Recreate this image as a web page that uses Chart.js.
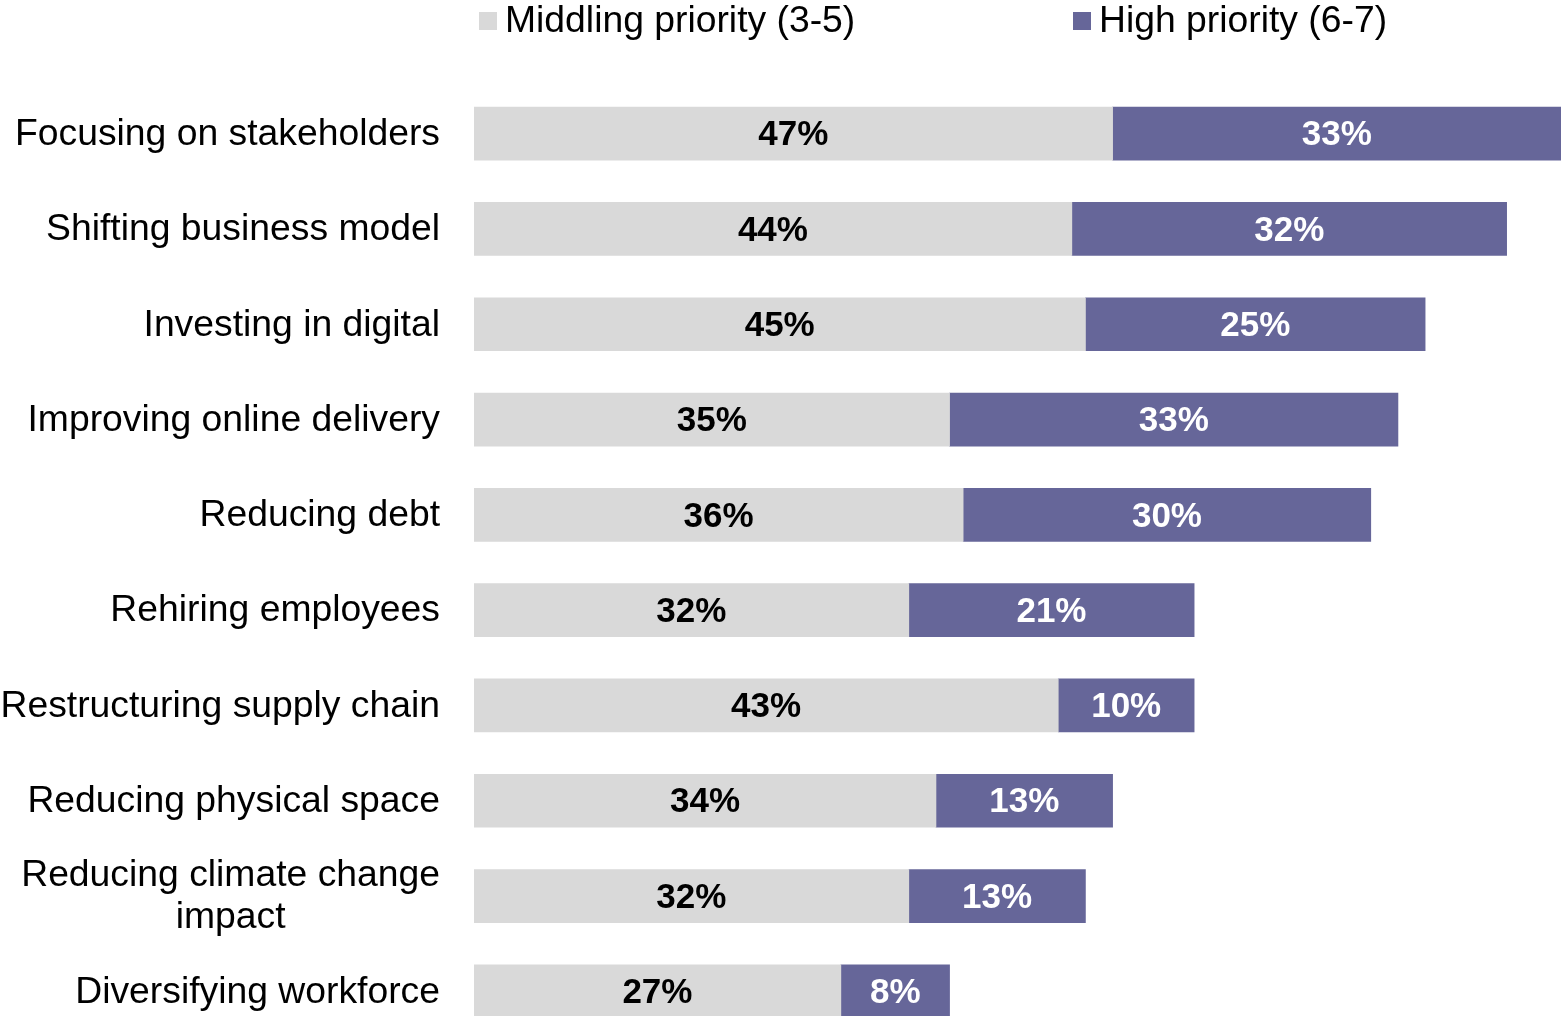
<!DOCTYPE html>
<html>
<head>
<meta charset="utf-8">
<script src="https://cdn.jsdelivr.net/npm/chart.js@4/dist/chart.umd.min.js"></script>
<style>
  html, body { margin: 0; padding: 0; background: #fff; overflow: hidden; }
  #wrap { width: 1561px; height: 1016px; overflow: hidden; position: relative; }
  canvas { display: block; }
</style>
</head>
<body>
<div id="wrap"><canvas id="c" width="1561" height="1039"></canvas></div>
<script>
const categories = [
  "Focusing on stakeholders",
  "Shifting business model",
  "Investing in digital",
  "Improving online delivery",
  "Reducing debt",
  "Rehiring employees",
  "Restructuring supply chain",
  "Reducing physical space",
  ["Reducing climate change", "impact"],
  "Diversifying workforce"
];
const seriesNames = ["Middling priority (3-5)", "High priority (6-7)"];
const middling = [47, 44, 45, 35, 36, 32, 43, 34, 32, 27];
const high = [33, 32, 25, 33, 30, 21, 10, 13, 13, 8];
const colors = ["#D9D9D9", "#666699"];
const labelColors = ["#000000", "#FFFFFF"];

const FONT = "'Liberation Sans', Arial, sans-serif";

const yLabelPlugin = {
  id: 'yLabels',
  afterDraw(chart) {
    const ctx = chart.ctx;
    const y = chart.scales.y;
    ctx.save();
    ctx.font = "37.3px " + FONT;
    ctx.fillStyle = "#000";
    ctx.textBaseline = "middle";
    const right = 440;
    chart.data.labels.forEach((lab, i) => {
      const cy = y.getPixelForValue(i) + 1;
      if (Array.isArray(lab)) {
        const widths = lab.map(l => ctx.measureText(l).width);
        const maxW = Math.max(...widths);
        const center = right - maxW / 2;
        const lh = 42;
        ctx.textAlign = "center";
        lab.forEach((l, k) => {
          ctx.fillText(l, center, cy + (k - (lab.length - 1) / 2) * lh);
        });
      } else {
        ctx.textAlign = "right";
        ctx.fillText(lab, right, cy);
      }
    });
    ctx.restore();
  }
};

const dataLabelPlugin = {
  id: 'dataLabels',
  afterDatasetsDraw(chart) {
    const ctx = chart.ctx;
    ctx.save();
    ctx.font = "bold 35px " + FONT;
    ctx.textAlign = "center";
    ctx.textBaseline = "middle";
    chart.data.datasets.forEach((ds, di) => {
      const meta = chart.getDatasetMeta(di);
      ctx.fillStyle = labelColors[di];
      meta.data.forEach((bar, i) => {
        const cx = (bar.x + bar.base) / 2;
        ctx.fillText(ds.data[i] + "%", cx, bar.y + 2);
      });
    });
    ctx.restore();
  }
};

const legendPlugin = {
  id: 'customLegend',
  afterDraw(chart) {
    const ctx = chart.ctx;
    const starts = [479, 1073];
    ctx.save();
    ctx.font = "37.3px " + FONT;
    ctx.textBaseline = "middle";
    ctx.textAlign = "left";
    chart.data.datasets.forEach((ds, di) => {
      const x = starts[di];
      ctx.fillStyle = ds.backgroundColor;
      ctx.fillRect(x, 12, 18, 18);
      ctx.fillStyle = "#000";
      ctx.fillText(ds.label, x + 26, 22);
    });
    ctx.restore();
  }
};

new Chart(document.getElementById('c'), {
  type: 'bar',
  data: {
    labels: categories,
    datasets: [
      { label: seriesNames[0], data: middling, backgroundColor: colors[0], barThickness: 53, borderWidth: 0 },
      { label: seriesNames[1], data: high, backgroundColor: colors[1], barThickness: 53, borderWidth: 0 }
    ]
  },
  options: {
    indexAxis: 'y',
    responsive: false,
    animation: false,
    devicePixelRatio: 1,
    layout: { padding: { top: 86, left: 474, right: 0, bottom: 0 } },
    plugins: { legend: { display: false }, tooltip: { enabled: false } },
    scales: {
      x: { stacked: true, min: 0, max: 80, display: false },
      y: { stacked: true, display: false }
    }
  },
  plugins: [yLabelPlugin, dataLabelPlugin, legendPlugin]
});
</script>
</body>
</html>
